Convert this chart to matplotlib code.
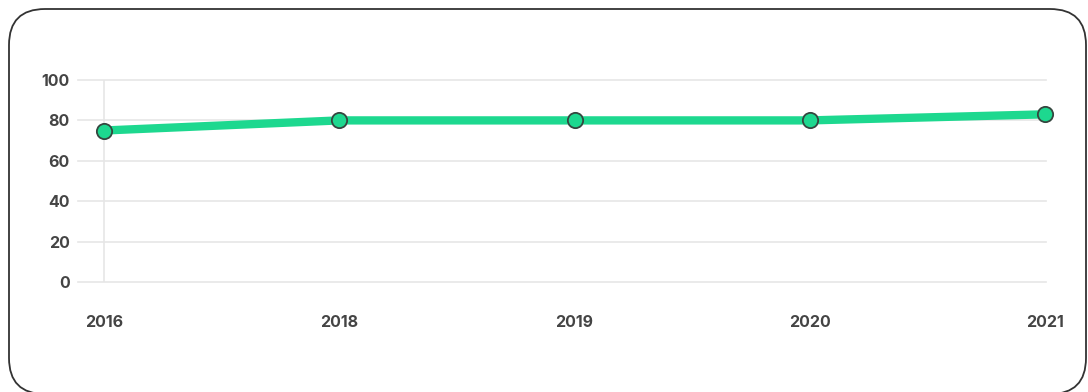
import matplotlib.pyplot as plt
from matplotlib.patches import FancyBboxPatch

years = ["2016", "2018", "2019", "2020", "2021"]
scores = [75, 80, 80, 80, 83]
y_ticks = [0, 20, 40, 60, 80, 100]

plt.rcParams["font.family"] = ["Inter", "DejaVu Sans"]

fig = plt.figure(figsize=(10.88, 3.92), dpi=100)
ax = fig.add_axes([78 / 1088, 1 - 282 / 392, (1046 - 78) / 1088, (282 - 80) / 392])

x = list(range(len(years)))
ax.plot(x, scores, color="#1dd88f", lw=6, solid_capstyle="butt", zorder=3, clip_on=False)
ax.plot(x, scores, "o", ms=11, mfc="#1dd88f", mec="#35463f", mew=1.3, zorder=4, clip_on=False)

ax.set_xlim(-26 / 235.25, 4 + 1 / 235.25)
ax.set_ylim(0, 100)
ax.set_xticks(x)
ax.set_xticklabels(years)
ax.set_yticks(y_ticks)

for s in ax.spines.values():
    s.set_visible(False)
ax.grid(axis="y", color="#e6e6e6", lw=1.2)
for gl in ax.get_ygridlines():
    gl.set_clip_on(False)
ax.axvline(0, color="#e6e6e6", lw=1.2, zorder=1)
ax.tick_params(axis="both", length=0, labelsize=11.5, labelcolor="#444444")
ax.tick_params(axis="x", pad=24)
ax.tick_params(axis="y", pad=6)
for lbl in ax.get_xticklabels() + ax.get_yticklabels():
    lbl.set_fontweight("bold")

# rounded frame around the card, in pixel coordinates
frame = FancyBboxPatch((9, -2), 1077, 385, boxstyle="round,pad=0,rounding_size=36",
                       transform=None, fill=False, ec="#333333", lw=1.3)
fig.patches.append(frame)

fig.savefig("out.png", dpi=100)
